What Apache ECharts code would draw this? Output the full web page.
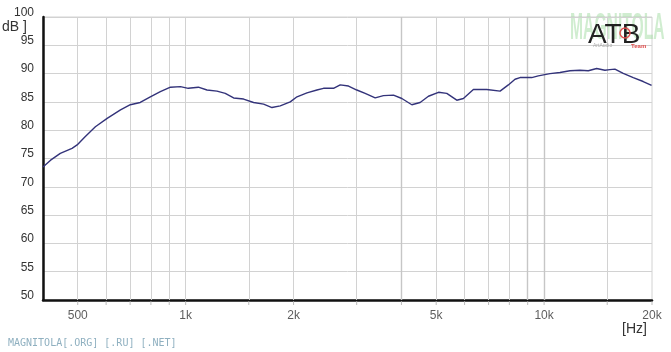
<!DOCTYPE html>
<html>
<head>
<meta charset="utf-8">
<script src="https://cdn.jsdelivr.net/npm/echarts@6/dist/echarts.min.js"></script>
<style>html,body{margin:0;padding:0;background:#fff;}#c{width:671px;height:352px;}</style>
</head>
<body>
<div id="c"></div>
<script>
// Frequency response (Hz, dB)
var freqs = [400,420,447,482,498,525,560,604,658,701,747,797,850,907,967,1017,1085,1147,1223,1290,1361,1451,1547,1650,1741,1836,1958,2045,2180,2324,2424,2585,2699,2847,3003,3168,3379,3563,3800,4010,4276,4510,4757,5073,5352,5707,5955,6349,6919,7537,7948,8297,8566,9236,9634,10385,11074,11808,12589,13281,14018,14781,15262,15761,16624,17732,18902,19946,20000];
var levels = [73.5,74.7,75.9,76.8,77.4,78.9,80.6,82.1,83.6,84.5,84.9,85.9,86.8,87.6,87.7,87.4,87.6,87.1,86.9,86.5,85.7,85.5,84.9,84.6,84.0,84.3,85.0,85.9,86.6,87.1,87.4,87.4,88.0,87.8,87.1,86.5,85.7,86.1,86.2,85.6,84.5,84.9,86.0,86.7,86.5,85.3,85.6,87.2,87.2,86.9,88.0,89.0,89.3,89.3,89.6,90.0,90.2,90.5,90.6,90.5,90.9,90.6,90.7,90.8,90.05,89.3,88.6,87.9,87.8];
var gridFreqs = [500,600,700,800,900,1000,1500,2000,3000,4000,5000,6000,7000,8000,9000,10000,15000];
var tickFreqs = [500,1000,2000,5000,10000,20000];
var tickLabels = ['500','1k','2k','5k','10k','20k'];

var darker = {4000:1,9000:1,10000:1};
var chart = echarts.init(document.getElementById('c'), null, {renderer:'canvas'});
var lineData = freqs.map(function(f,i){return [f, levels[i]];});
var gridLines = gridFreqs.map(function(f){
  return {xAxis:f, lineStyle:{color: darker[f] ? '#c6c6c6' : '#d2d2d2', width: darker[f] ? 1.4 : 1, type:'solid'}};
});
var tickMarks = gridFreqs.concat([20000]).map(function(f){return [f,50];});
var tickLabelData = tickFreqs.map(function(f,i){return {value:[f,50], label:{formatter:tickLabels[i]}};});

chart.setOption({
  animation:false,
  backgroundColor:'#fff',
  grid:{left:43,right:19,top:17,bottom:52,show:true,borderColor:'#d2d2d2',borderWidth:1},
  xAxis:{type:'log',logBase:10,min:400,max:20000,
    axisLine:{show:true,onZero:false,lineStyle:{color:'#111',width:2.5}},
    axisTick:{show:false},axisLabel:{show:false},splitLine:{show:false},minorSplitLine:{show:false}},
  yAxis:{type:'value',min:50,max:100,interval:5,
    axisLine:{show:true,lineStyle:{color:'#111',width:2.5}},
    axisTick:{show:false},
    axisLabel:{color:'#333',fontSize:12,fontFamily:'Liberation Sans, Arial, sans-serif',margin:9,verticalAlign:'bottom',lineHeight:9},
    splitLine:{lineStyle:{color:'#d2d2d2',width:1}}},
  series:[
    {type:'line',data:lineData,showSymbol:false,symbol:'none',
      lineStyle:{color:'#33337a',width:1.4},z:5,
      markLine:{silent:true,symbol:'none',label:{show:false},data:gridLines,z:1}},
    {type:'scatter',data:tickMarks,symbol:'rect',symbolSize:[1,4],symbolOffset:[0,3],
      itemStyle:{color:'#aaa'},silent:true,z:2},
    {type:'scatter',data:tickLabelData,symbolSize:0,silent:true,
      label:{show:true,position:'bottom',distance:10,color:'#333',fontSize:12,fontFamily:'Liberation Sans, Arial, sans-serif'}}
  ],
  graphic:[
    {type:'text',left:2,top:20,style:{text:'dB ]',fill:'#333',font:'14px Liberation Sans, Arial, sans-serif'}},
    {type:'text',left:622,top:322,style:{text:'[Hz]',fill:'#333',font:'14px Liberation Sans, Arial, sans-serif'}},
    {type:'text',left:8,top:338,style:{text:'MAGNITOLA[.ORG] [.RU] [.NET]',fill:'#8fb0c0',font:'10px DejaVu Sans Mono, monospace'}},
    {type:'text',x:570,y:10,scaleX:0.56,scaleY:1.35,style:{text:'MAGNITOLA',fill:'rgba(150,215,150,0.45)',font:'bold 28px Liberation Sans, Arial, sans-serif'},z:0},
    {type:'text',x:588,y:21,style:{text:'ATB',fill:'#222',font:'28px Liberation Sans, Arial, sans-serif'},z:10},
    {type:'circle',shape:{cx:625,cy:33,r:5},style:{fill:'none',stroke:'#e05050',lineWidth:1.5},z:11},
    {type:'text',x:593,y:43,style:{text:'ArtAudio',fill:'#aaa',font:'5px Liberation Sans, Arial, sans-serif'},z:11},
    {type:'text',x:631,y:43,style:{text:'Team',fill:'#e05050',font:'bold 6px Liberation Sans, Arial, sans-serif'},z:11}
  ]
});
</script>
</body>
</html>
